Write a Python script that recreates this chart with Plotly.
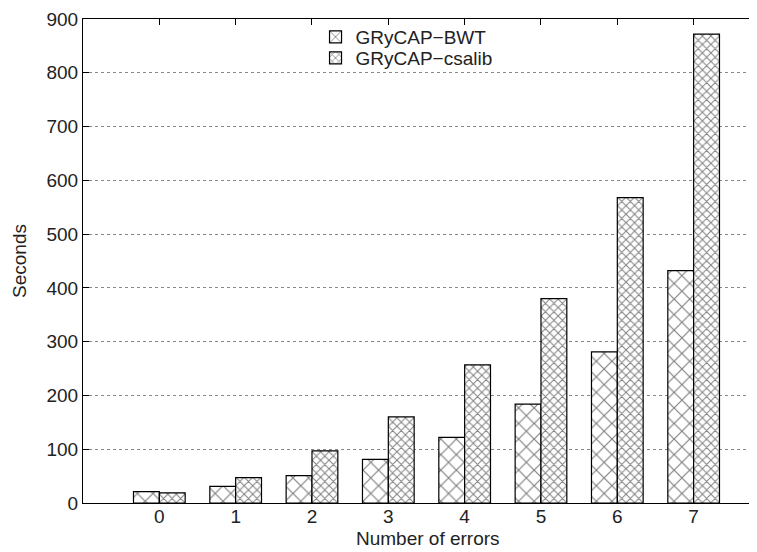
import plotly.graph_objects as go

errors = [0, 1, 2, 3, 4, 5, 6, 7]
bwt = [21, 31, 51, 81, 122, 184, 281, 432]
csalib = [19, 47, 97, 160, 257, 380, 568, 872]
yticks = [0, 100, 200, 300, 400, 500, 600, 700, 800, 900]

FONT = "Liberation Sans"

fig = go.Figure()
fig.add_trace(go.Bar(
    x=errors, y=bwt, name="GRyCAP\u2212BWT", legend="legend",
    marker=dict(color="white", line=dict(color="black", width=1.2),
                pattern=dict(shape="x", size=11, solidity=0.2,
                             fgcolor="black", bgcolor="white", fillmode="overlay")),
))
fig.add_trace(go.Bar(
    x=errors, y=csalib, name="GRyCAP\u2212csalib", legend="legend2",
    marker=dict(color="white", line=dict(color="black", width=1.2),
                pattern=dict(shape="x", size=6, solidity=0.3,
                             fgcolor="black", bgcolor="white", fillmode="overlay")),
))

leg_common = dict(xanchor="left", yanchor="middle", bgcolor="rgba(0,0,0,0)",
                  font=dict(size=19, family=FONT, color="#222222"),
                  itemwidth=30, borderwidth=0)

fig.update_layout(
    width=749, height=544,
    margin=dict(l=75, r=0, t=11, b=49),
    paper_bgcolor="white", plot_bgcolor="white",
    barmode="group", bargap=0.323, bargroupgap=0,
    font=dict(family=FONT, size=19, color="#222222"),
    showlegend=True,
    legend=dict(x=0.345, y=0.9628, **leg_common),
    legend2=dict(x=0.345, y=0.9194, **leg_common),
    annotations=[dict(text="Number of errors", xref="paper", yref="paper",
                      x=0.512, y=-0.074, xanchor="center", yanchor="middle",
                      showarrow=False, font=dict(size=19, family=FONT))],
)
fig.update_xaxes(
    range=[-1, 7.83], tickmode="array", tickvals=errors,
    ticktext=[str(e) for e in errors],
    ticks="inside", ticklen=6, tickcolor="black", showline=True,
    linecolor="black", linewidth=1.2, mirror="ticks", showgrid=False,
    ticklabelstandoff=-4,
    tickfont=dict(size=19), zeroline=False,
)
fig.update_yaxes(
    range=[0, 900], tickmode="array", tickvals=yticks,
    ticktext=[str(v) for v in yticks],
    ticks="inside", ticklen=6, tickcolor="black", showline=True,
    linecolor="black", linewidth=1.2, mirror=False,
    showgrid=True, gridcolor="#888888", griddash="dot", gridwidth=1,
    title=dict(text="Seconds", standoff=14, font=dict(size=19)),
    tickfont=dict(size=19), zeroline=False,
)
fig.write_html("out.html")
